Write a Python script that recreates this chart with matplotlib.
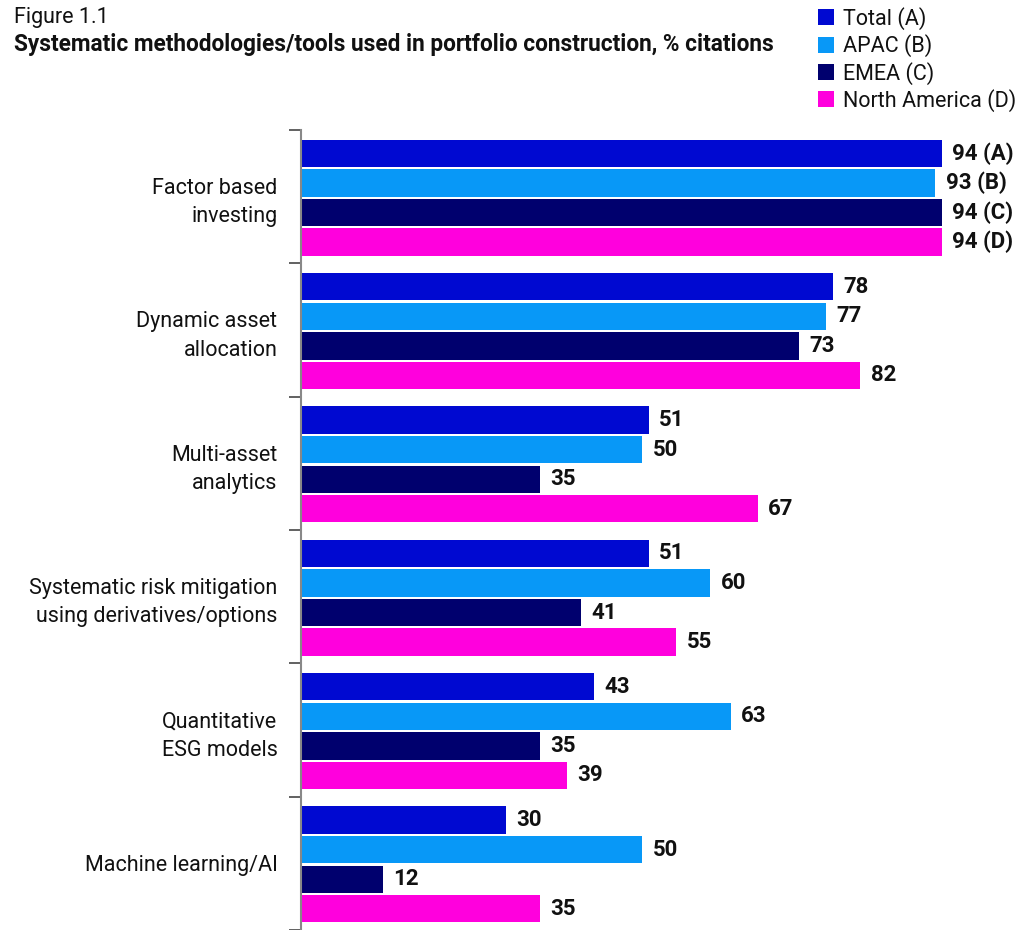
import matplotlib
matplotlib.use("Agg")
import matplotlib.pyplot as plt
import numpy as np

plt.rcParams['font.family'] = ['Roboto', 'DejaVu Sans']

categories = ['Factor based\ninvesting', 'Dynamic asset\nallocation', 'Multi-asset\nanalytics',
              'Systematic risk mitigation\nusing derivatives/options', 'Quantitative\nESG models',
              'Machine learning/AI']
series = ['Total (A)', 'APAC (B)', 'EMEA (C)', 'North America (D)']
total = [94, 78, 51, 51, 43, 30]
apac = [93, 77, 50, 60, 63, 50]
emea = [94, 73, 35, 41, 35, 12]
namerica = [94, 82, 67, 55, 39, 35]
first_suffix = [' (A)', ' (B)', ' (C)', ' (D)']
colors = ['#0009d1', '#0898f7', '#00006e', '#ff00dd']

values = [total, apac, emea, namerica]

fig = plt.figure(figsize=(10.2, 9.3), dpi=100)
ax = fig.add_axes([301/1020, 0, (1000-301)/1020, 1-130/930])

n = len(categories)
handles = []
for j, vals in enumerate(values):
    y = np.arange(n) + 0.175 + 0.222*j
    b = ax.barh(y, vals, height=0.205, color=colors[j], label=series[j])
    handles.append(b)
    for i, v in enumerate(vals):
        txt = str(v) + (first_suffix[j] if i == 0 else '')
        ax.annotate(txt, (v, y[i]), xytext=(7.5, 0), textcoords='offset points',
                    va='center', ha='left', fontsize=16, fontweight='bold', color='#111111')

ax.set_xlim(0, 102.5)
ax.set_ylim(n, 0)
ax.set_xticks([])
ax.set_yticks(np.arange(n+1))
ax.set_yticklabels([])
ax.set_yticks(np.arange(n) + 0.5, minor=True)
ax.set_yticklabels(categories, minor=True, fontsize=15.5, color='#111111', linespacing=1.45)
ax.tick_params(axis='y', which='major', length=9, width=1.3, color='#555555')
ax.tick_params(axis='y', which='minor', length=0, pad=17)
for s in ['top', 'right', 'bottom']:
    ax.spines[s].set_visible(False)
ax.spines['left'].set_color('#888888')
ax.spines['left'].set_linewidth(1.5)

fig.text(14/1020, 1-18/930, 'Figure 1.1', fontsize=15.5, va='center', ha='left', color='#111111')
fig.text(14/1020, 1-45/930, 'Systematic methodologies/tools used in portfolio construction, % citations',
         fontsize=16.3, fontweight='bold', va='center', ha='left', color='#111111')

fig.legend(handles, series, loc='upper left', bbox_to_anchor=(818/1020, 1-7/930), frameon=False,
           fontsize=15.5, handlelength=0.75, handleheight=0.75, handletextpad=0.4,
           labelspacing=0.2, borderaxespad=0, borderpad=0, labelcolor='#111111')

fig.savefig('out.png', dpi=100)
